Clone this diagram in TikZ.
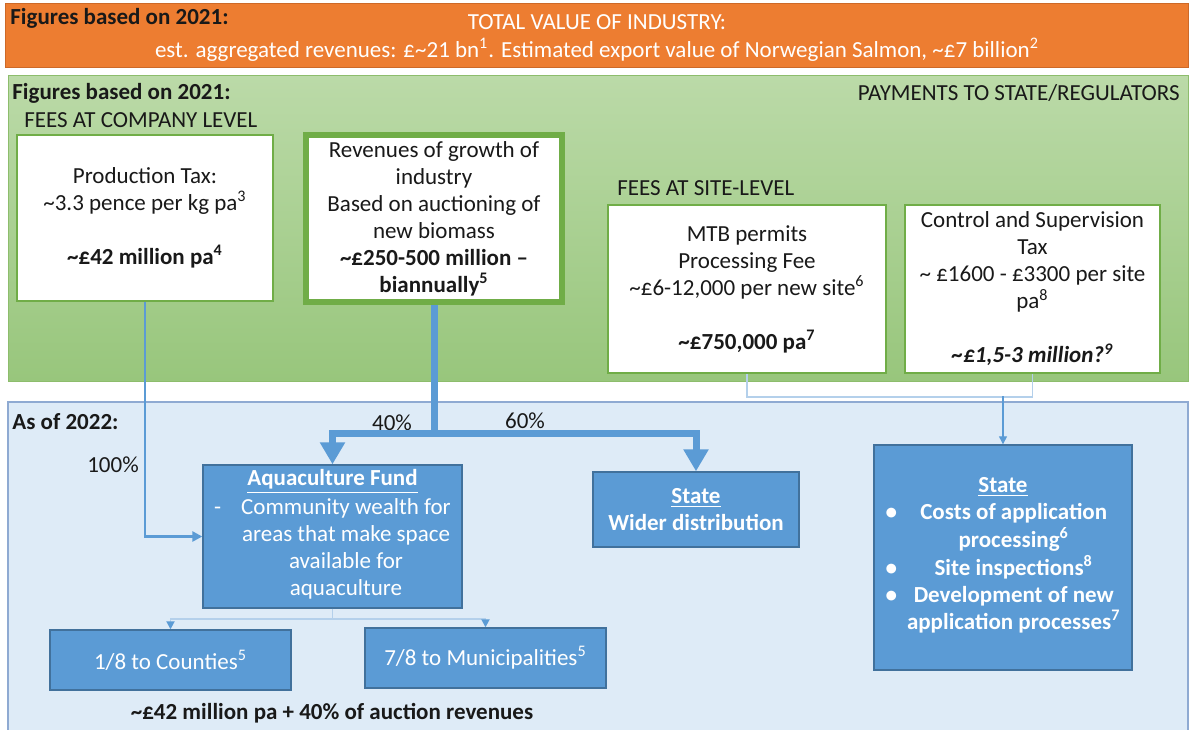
\documentclass[tikz,border=0pt]{standalone}
\usepackage{fontspec}
\setmainfont{Carlito}
\usetikzlibrary{arrows.meta}

\definecolor{bannerorange}{RGB}{237,125,49}
\definecolor{bannerline}{RGB}{205,105,40}
\definecolor{greentop}{RGB}{187,218,168}
\definecolor{greenbot}{RGB}{152,198,124}
\definecolor{greenline}{RGB}{112,173,71}
\definecolor{paleblue}{RGB}{222,235,247}
\definecolor{panelline}{RGB}{143,170,210}
\definecolor{boxblue}{RGB}{91,155,213}
\definecolor{boxline}{RGB}{65,113,156}
\definecolor{linkpale}{RGB}{180,208,235}
\definecolor{inktext}{RGB}{25,25,25}

\tikzset{
  feebox/.style={draw=greenline, line width=1pt, fill=white, align=center, inner sep=2pt},
  bluebox/.style={draw=boxline, line width=0.7pt, fill=boxblue, align=center, text=white, inner sep=2pt},
  lbl/.style={inner sep=0pt},
  flow/.style={boxblue, line width=1.4pt, -{Triangle[length=5pt,width=5pt]}},
  bigtrunk/.style={boxblue, line width=3.5pt},
  bigflow/.style={boxblue, line width=3.5pt, -{Triangle[length=11pt,width=12pt]}},
  paleflow/.style={linkpale, line width=0.9pt},
  paletip/.style={linkpale, line width=0.9pt, -{Triangle[length=4pt,width=4pt,color=boxblue]}},
  thinflow/.style={boxblue, line width=0.6pt, -{Triangle[length=4pt,width=4pt]}},
}

\begin{document}
\begin{tikzpicture}[x=0.5pt, y=-0.5pt, font=\fontsize{11.5pt}{13.5pt}\selectfont, text=inktext]
    \useasboundingbox (0,0) rectangle (1194,729);

    % Draw the three panels
    \draw[bannerline, fill=bannerorange] (5,3) rectangle (1188,67);
    \draw[greenline!80, top color=greentop, bottom color=greenbot] (8,75) rectangle (1188,381);
    \draw[panelline, line width=0.8pt, fill=paleblue] (8,402) rectangle (1188,745);

    % Banner texts
    \node[lbl, anchor=west] (bannerfig) at (10,18) {\textbf{Figures based on 2021:}};
    \node[lbl, text=white] (bannertitle) at (597,22) {TOTAL VALUE OF INDUSTRY:};
    \node[lbl, text=white] (bannervalue) at (597,50) {est. aggregated revenues: £\textasciitilde21 bn\textsuperscript{1}. Estimated export value of Norwegian Salmon, \textasciitilde£7 billion\textsuperscript{2}};

    % Payments panel texts
    \node[lbl, anchor=west] (greenfig) at (12,93) {\textbf{Figures based on 2021:}};
    \node[lbl, anchor=east] (payments) at (1180,93) {PAYMENTS TO STATE/REGULATORS};
    \node[lbl, anchor=west] (feecompany) at (24,120) {FEES AT COMPANY LEVEL};
    \node[lbl, anchor=west] (feesite) at (617,188) {FEES AT SITE-LEVEL};

    % Fee boxes
    \node[feebox, minimum width=128pt, minimum height=83pt] (prod) at (145,218) {Production Tax:\\\textasciitilde3.3 pence per kg pa\textsuperscript{3}\\[13.5pt]\textbf{\textasciitilde£42 million pa\textsuperscript{4}}};
    \node[feebox, line width=3pt, minimum width=128pt, minimum height=83.5pt] (rev) at (434,218.5) {Revenues of growth of\\industry\\Based on auctioning of\\new biomass\\\textbf{\textasciitilde£250-500 million --}\\\textbf{biannually\textsuperscript{5}}};
    \node[feebox, minimum width=139pt, minimum height=84pt] (mtb) at (747,289) {MTB permits\\Processing Fee\\\textasciitilde£6-12,000 per new site\textsuperscript{6}\\[13.5pt]\textbf{\textasciitilde£750,000 pa\textsuperscript{7}}};
    \node[feebox, minimum width=127.5pt, minimum height=84pt] (ctrl) at (1032.5,289) {Control and Supervision\\Tax\\\textasciitilde\ £1600 - £3300 per site\\pa\textsuperscript{8}\\[13.5pt]\textbf{\textit{\textasciitilde£1,5-3 million?\textsuperscript{9}}}};

    % Distribution panel texts
    \node[lbl, anchor=west] (asof) at (12,422) {\textbf{As of 2022:}};
    \node[lbl] (pctall) at (113,465) {100\%};
    \node[lbl] (pctfund) at (392,423) {40\%};
    \node[lbl] (pctstate) at (525,421) {60\%};
    \node[lbl] (total) at (332,713) {\textbf{\textasciitilde£42 million pa + 40\% of auction revenues}};

    % Receiver boxes
    \node[bluebox, minimum width=129.5pt, minimum height=71.5pt] (fund) at (332.5,536.5) {\textbf{\underline{Aquaculture Fund}}\\[1pt]\begin{tabular}[t]{@{}l@{\hspace{10pt}}c@{}}-&Community wealth for\\&areas that make space\\&available for\\&aquaculture\end{tabular}};
    \node[bluebox, minimum width=103pt, minimum height=37.5pt] (statewide) at (696,509.5) {\textbf{\underline{State}}\\\textbf{Wider distribution}};
    \node[bluebox, minimum width=129pt, minimum height=112.5pt] (stateright) at (1003,557.5) {\textbf{\underline{State}}\\\textbf{\begin{tabular}[t]{@{}c@{\hspace{5pt}}c@{}}\textbullet&Costs of application\\&processing\textsuperscript{6}\\\textbullet&Site inspections\textsuperscript{8}\\\textbullet&Development of new\\&application processes\textsuperscript{7}\end{tabular}}};
    \node[bluebox, minimum width=120.5pt, minimum height=30pt] (counties) at (170.5,660) {1/8 to Counties\textsuperscript{5}};
    \node[bluebox, minimum width=120.5pt, minimum height=30pt] (munic) at (485.5,658) {7/8 to Municipalities\textsuperscript{5}};

    % Flows from the company level fees
    \draw[flow] (prod.south) |- (fund.west);
    \coordinate (split) at (434,433);
    \draw[bigtrunk] (rev.south) -- (split);
    \draw[bigflow] (split) -| (fund.north);
    \draw[bigflow] (split) -| (statewide.north);

    % Flows from the site level fees
    \coordinate (sitejoin) at (1003,396);
    \draw[paleflow] (mtb.south) -- ++(0,23) -| (ctrl.south);
    \draw[thinflow] (sitejoin) -- (stateright.north);

    % Split of the fund
    \coordinate (fundjoin) at (332.5,619);
    \draw[paleflow] (fund.south) -- (fundjoin);
    \draw[paletip] (fundjoin) -| (counties.north);
    \draw[paletip] (fundjoin) -| (munic.north);

\end{tikzpicture}
\end{document}
